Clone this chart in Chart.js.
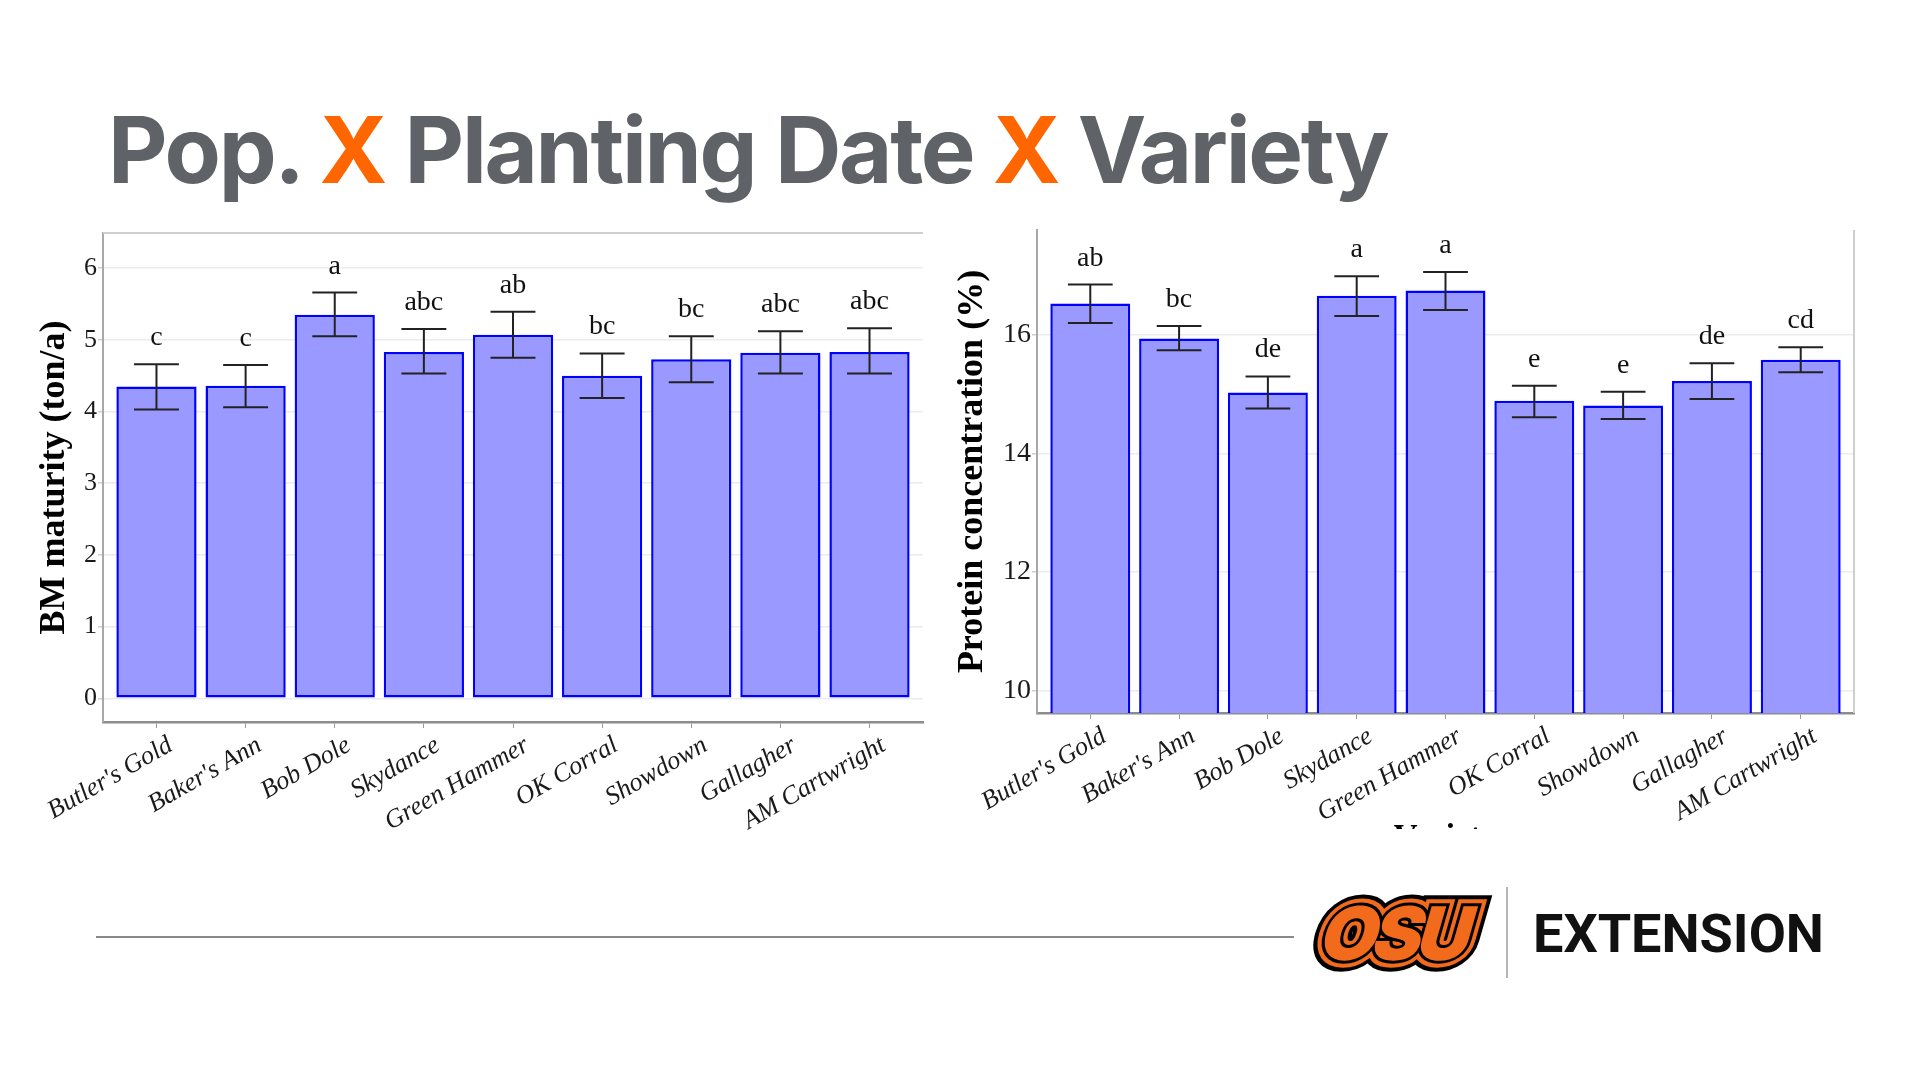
<!DOCTYPE html>
<html>
<head>
<meta charset="utf-8">
<title>Pop. X Planting Date X Variety</title>
<script src="https://cdn.jsdelivr.net/npm/chart.js@4.4.1/dist/chart.umd.min.js"></script>
<style>
    html, body { margin: 0; padding: 0; background: #fff; }
    body { width: 1920px; height: 1080px; position: relative; overflow: hidden; }
    .title {
        position: absolute; left: 108px; top: 104px;
        font: 700 92px/1 Inter, "Open Sans", sans-serif;
        letter-spacing: -2.3px;
        color: #5f6267; white-space: nowrap;
    }
    .title .x { color: #ff6600; }
    #leftBox { position: absolute; left: 0; top: 200px; width: 940px; height: 660px; }
    #rightClip { position: absolute; left: 940px; top: 200px; width: 940px; height: 629px; overflow: hidden; }
    #rightBox { position: relative; width: 940px; height: 670px; }
    .rule { position: absolute; left: 96px; top: 936px; width: 1198px; height: 2px; background: #8a8a8a; }
    .logo { position: absolute; left: 1300px; top: 880px; width: 195px; height: 105px; }
    .sep { position: absolute; left: 1506px; top: 887px; width: 2px; height: 91px; background: #b5b5b5; }
    .ext {
        position: absolute; left: 1533px; top: 907px;
        font: 700 54px/1 Roboto, "Liberation Sans", sans-serif;
        color: #111;
    }
</style>
</head>
<body>
<div class="title">Pop. <span class="x">X</span> Planting Date <span class="x">X</span> Variety</div>

<div id="leftBox"><canvas id="bmChart"></canvas></div>
<div id="rightClip"><div id="rightBox"><canvas id="proteinChart"></canvas></div></div>

<div class="rule"></div>
<svg class="logo" viewBox="0 0 195 105">
    <g transform="translate(16,80) skewX(-16)" font-family="Inter, sans-serif" font-weight="900" font-size="74" letter-spacing="-5">
        <text x="0" y="0" fill="#000" stroke="#000" stroke-width="22" stroke-linejoin="miter">OSU</text>
        <text x="0" y="0" fill="#f26b1d" stroke="#f26b1d" stroke-width="14" stroke-linejoin="miter">OSU</text>
        <text x="0" y="0" fill="#000" stroke="#000" stroke-width="6" stroke-linejoin="miter">OSU</text>
        <text x="0" y="0" fill="#f26b1d">OSU</text>
    </g>
</svg>
<div class="sep"></div>
<div class="ext">EXTENSION</div>

<script>
const varieties = ["Butler's Gold", "Baker's Ann", 'Bob Dole', 'Skydance', 'Green Hammer',
    'OK Corral', 'Showdown', 'Gallagher', 'AM Cartwright'];

// BM maturity (ton/a)
const bmMean = [4.35, 4.36, 5.35, 4.83, 5.07, 4.50, 4.73, 4.82, 4.83];
const bmLow = [4.03, 4.06, 5.05, 4.53, 4.75, 4.19, 4.41, 4.53, 4.53];
const bmHigh = [4.66, 4.65, 5.66, 5.15, 5.39, 4.81, 5.05, 5.12, 5.16];
const bmGroups = ['c', 'c', 'a', 'abc', 'ab', 'bc', 'bc', 'abc', 'abc'];
const bmTicks = [0, 1, 2, 3, 4, 5, 6];

// Protein concentration (%)
const proteinMean = [16.53, 15.94, 15.03, 16.66, 16.75, 14.89, 14.81, 15.22, 15.58];
const proteinLow = [16.20, 15.74, 14.76, 16.32, 16.42, 14.61, 14.58, 14.92, 15.37];
const proteinHigh = [16.85, 16.15, 15.30, 16.99, 17.06, 15.14, 15.04, 15.52, 15.79];
const proteinGroups = ['ab', 'bc', 'de', 'a', 'a', 'e', 'e', 'de', 'cd'];
const proteinTicks = [10, 12, 14, 16];

const serif = "'Liberation Serif', 'Times New Roman', serif";

// whiskers + significance letters, placed through the chart's own scales
const errorBarPlugin = {
    id: 'errorBars',
    afterDatasetsDraw(chart, args, opts) {
        const { ctx } = chart;
        const yScale = chart.scales.y;
        const meta = chart.getDatasetMeta(0);
        ctx.save();
        ctx.strokeStyle = '#222';
        ctx.lineWidth = 2;
        ctx.fillStyle = '#111';
        ctx.font = `${opts.fontSize}px ${serif}`;
        ctx.textAlign = 'center';
        ctx.textBaseline = 'alphabetic';
        meta.data.forEach((bar, i) => {
            const cx = bar.x;
            const half = bar.width * 0.28;
            const yLo = yScale.getPixelForValue(opts.low[i]);
            const yHi = yScale.getPixelForValue(opts.high[i]);
            ctx.beginPath();
            ctx.moveTo(cx, yLo); ctx.lineTo(cx, yHi);
            ctx.moveTo(cx - half, yLo); ctx.lineTo(cx + half, yLo);
            ctx.moveTo(cx - half, yHi); ctx.lineTo(cx + half, yHi);
            ctx.stroke();
            ctx.fillText(opts.groups[i], cx, yHi - 19);
        });
        ctx.restore();
    }
};

// light panel border on the sides that show in the cropped figures
const framePlugin = {
    id: 'frame',
    beforeDatasetsDraw(chart, args, opts) {
        const { ctx, chartArea: a } = chart;
        ctx.save();
        ctx.strokeStyle = '#cfcfcf';
        ctx.lineWidth = 2;
        ctx.beginPath();
        if (opts.top) { ctx.moveTo(a.left, a.top); ctx.lineTo(a.right, a.top); }
        if (opts.right) { ctx.moveTo(a.right, a.top); ctx.lineTo(a.right, a.bottom); }
        ctx.stroke();
        ctx.restore();
    }
};

function makeChart(canvasId, cfg) {
    const data = cfg.values.map((v, i) => ({ x: i, y: v }));
    return new Chart(document.getElementById(canvasId), {
        type: 'bar',
        data: {
            datasets: [{
                data: data,
                backgroundColor: '#9999ff',
                borderColor: '#0000ff',
                borderWidth: 2.5,
                borderSkipped: false,
                barPercentage: 0.9,
                categoryPercentage: 1.0
            }]
        },
        options: {
            responsive: true,
            maintainAspectRatio: false,
            animation: false,
            layout: { padding: cfg.padding },
            plugins: {
                legend: { display: false },
                tooltip: { enabled: false },
                errorBars: { low: cfg.low, high: cfg.high, groups: cfg.groups, fontSize: cfg.letterSize },
                frame: cfg.frame
            },
            scales: {
                x: {
                    type: 'linear',
                    min: -0.6,
                    max: 8.6,
                    offset: false,
                    afterBuildTicks: axis => { axis.ticks = varieties.map((_, i) => ({ value: i })); },
                    afterFit: axis => { axis.height = cfg.xHeight; },
                    grid: { drawOnChartArea: false, drawTicks: true, tickLength: 6, tickColor: '#9a9a9a', offset: false },
                    border: { display: true, color: '#8c8c8c', width: 2.5 },
                    ticks: {
                        autoSkip: false,
                        minRotation: 30,
                        maxRotation: 30,
                        labelOffset: 14,
                        padding: 2,
                        color: '#1a1a1a',
                        font: { family: serif, size: 26, style: 'italic' },
                        callback: value => varieties[value]
                    },
                    title: cfg.xTitle
                },
                y: {
                    min: cfg.yMin,
                    max: cfg.yMax,
                    afterBuildTicks: axis => { axis.ticks = cfg.ticks.map(v => ({ value: v })); },
                    afterFit: axis => { axis.width = cfg.yWidth; },
                    grid: { color: '#ececec', lineWidth: 1.5, tickLength: 5, tickColor: '#cfcfcf' },
                    border: { display: true, color: '#a8a8a8', width: 2 },
                    ticks: {
                        padding: 1,
                        color: '#1a1a1a',
                        font: { family: serif, size: cfg.tickSize }
                    },
                    title: {
                        display: true,
                        text: cfg.yTitle,
                        color: '#000',
                        font: { family: serif, size: 36, weight: 'bold' },
                        padding: { top: cfg.yTitlePad, bottom: 0 }
                    }
                }
            }
        },
        plugins: [framePlugin, errorBarPlugin]
    });
}

makeChart('bmChart', {
    values: bmMean, low: bmLow, high: bmHigh, groups: bmGroups, ticks: bmTicks,
    yMin: -0.33, yMax: 6.49,
    yTitle: 'BM maturity (ton/a)', yTitlePad: 33, yWidth: 103, xHeight: 138,
    padding: { top: 33, right: 17, bottom: 0, left: 0 },
    tickSize: 26, letterSize: 28,
    frame: { top: true, right: false },
    xTitle: { display: false }
});

makeChart('proteinChart', {
    values: proteinMean, low: proteinLow, high: proteinHigh, groups: proteinGroups, ticks: proteinTicks,
    yMin: 9.62, yMax: 17.77,
    yTitle: 'Protein concentration (%)', yTitlePad: 11, yWidth: 97, xHeight: 157,
    padding: { top: 30, right: 26, bottom: 0, left: 0 },
    tickSize: 28, letterSize: 28,
    frame: { top: false, right: true },
    xTitle: {
        display: true, text: 'Variety', color: '#000',
        font: { family: serif, size: 33, weight: 'bold' },
        padding: { top: 0, bottom: 12 }
    }
});
</script>
</body>
</html>
